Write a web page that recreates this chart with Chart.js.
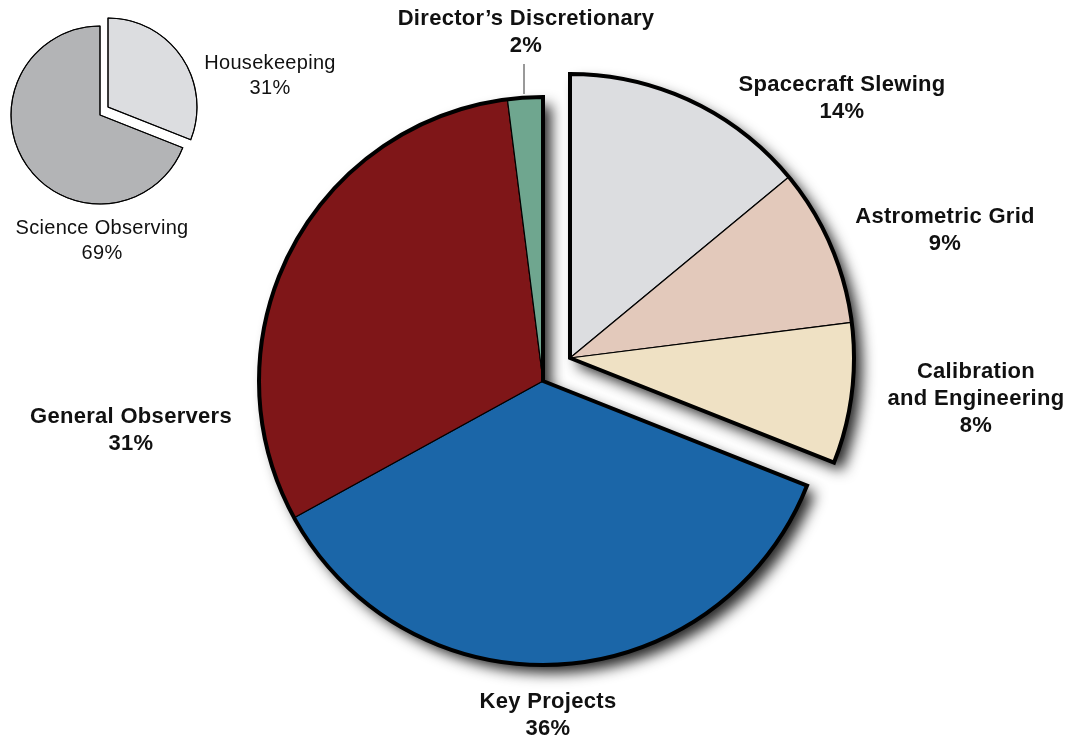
<!DOCTYPE html>
<html>
<head>
<meta charset="utf-8">
<script src="https://cdn.jsdelivr.net/npm/chart.js@4"></script>
<style>
  html, body { margin: 0; padding: 0; background: #fff; }
  #wrap { position: relative; width: 1081px; height: 736px; }
  #mainChart { position: absolute; left: 0; top: 0; }
  #smallChart { position: absolute; left: 0; top: 0; }
</style>
</head>
<body>
<div id="wrap">
  <canvas id="mainChart" width="1081" height="736"></canvas>
  <canvas id="smallChart" width="200" height="230"></canvas>
</div>
<script>
// data
const categories = ['Spacecraft Slewing', 'Astrometric Grid', 'Calibration and Engineering', 'Key Projects', 'General Observers', 'Director’s Discretionary'];
const shares = [14, 9, 8, 36, 31, 2];
const sliceColors = ['#dcdde0', '#e3c9bb', '#efe1c4', '#1b66a8', '#7f1618', '#6fa68f'];

const overviewCategories = ['Housekeeping', 'Science Observing'];
const overviewShares = [31, 69];
const overviewColors = ['#dcdde0', '#b3b4b6'];

// how the label text breaks into lines
const lineBreaks = { 'Calibration and Engineering': ['Calibration', 'and Engineering'] };

// label anchors (center x, first line y)
const mainLabelPos = [[842, 85], [945, 217], [976, 372], [548, 702], [131, 417], [526, 19]];
const smallLabelPos = [[270, 63], [102, 228]];

// draw the slices in groups, each group can be moved, gets a shadow and a thick outline
const groupPlugin = {
    id: 'groupDraw',
    beforeDatasetDraw(chart, args, opts) {
        const ctx = chart.ctx;
        const arcs = args.meta.data;
        opts.groups.forEach(g => {
            const els = g.idx.map(i => arcs[i]);
            const first = els[0];
            const last = els[els.length - 1];
            const x = first.x, y = first.y, r = first.outerRadius;
            const path = () => {
                ctx.beginPath();
                ctx.moveTo(x, y);
                ctx.arc(x, y, r, first.startAngle, last.endAngle);
                ctx.closePath();
            };
            ctx.save();
            ctx.translate(g.dx, g.dy);
            if (g.shadow) {
                ctx.save();
                ctx.shadowColor = 'rgba(0,0,0,0.85)';
                ctx.shadowBlur = 14;
                ctx.shadowOffsetX = 8;
                ctx.shadowOffsetY = 8;
                path();
                ctx.fillStyle = '#fff';
                ctx.fill();
                ctx.restore();
            }
            els.forEach(el => el.draw(ctx, chart.chartArea));
            path();
            ctx.lineWidth = g.lw;
            ctx.lineJoin = 'miter';
            ctx.strokeStyle = '#000';
            ctx.stroke();
            ctx.restore();
        });
        return false;
    }
};

function drawLabels(ctx, names, values, pos, font, lh) {
    ctx.save();
    ctx.fillStyle = '#111';
    ctx.font = font.font;
    ctx.letterSpacing = font.spacing;
    ctx.textAlign = 'center';
    ctx.textBaseline = 'middle';
    names.forEach((name, i) => {
        const lines = (lineBreaks[name] || [name]).concat([values[i] + '%']);
        lines.forEach((t, k) => ctx.fillText(t, pos[i][0], pos[i][1] + k * lh));
    });
    ctx.restore();
}

const labelPlugin = {
    id: 'labels',
    afterDraw(chart) {
        const ctx = chart.ctx;
        drawLabels(ctx, categories, shares, mainLabelPos, { font: 'bold 22px "Liberation Sans", Arial, sans-serif', spacing: '0.3px' }, 27);
        drawLabels(ctx, overviewCategories, overviewShares, smallLabelPos, { font: '20px "Liberation Sans", Arial, sans-serif', spacing: '0.3px' }, 25);
        // leader line for the small slice
        ctx.save();
        ctx.strokeStyle = '#777';
        ctx.lineWidth = 1.5;
        ctx.beginPath();
        ctx.moveTo(524, 64);
        ctx.lineTo(524, 94);
        ctx.stroke();
        ctx.restore();
    }
};

new Chart(document.getElementById('mainChart'), {
    type: 'pie',
    data: {
        labels: categories,
        datasets: [{
            data: shares,
            backgroundColor: sliceColors,
            borderColor: '#000',
            borderWidth: 1.2
        }]
    },
    options: {
        responsive: false,
        animation: false,
        radius: 284,
        layout: { padding: { left: 259, right: 254, top: 97, bottom: 71 } },
        plugins: {
            legend: { display: false },
            tooltip: { enabled: false },
            groupDraw: {
                groups: [
                    { idx: [3, 4, 5], dx: 0, dy: 0, shadow: true, lw: 4 },
                    { idx: [0, 1, 2], dx: 27, dy: -23, shadow: true, lw: 4 }
                ]
            }
        }
    },
    plugins: [groupPlugin, labelPlugin]
});

new Chart(document.getElementById('smallChart'), {
    type: 'pie',
    data: {
        labels: overviewCategories,
        datasets: [{
            data: overviewShares,
            backgroundColor: overviewColors,
            borderColor: '#222',
            borderWidth: 1
        }]
    },
    options: {
        responsive: false,
        animation: false,
        radius: 89,
        layout: { padding: { left: 11, right: 11, top: 26, bottom: 26 } },
        plugins: {
            legend: { display: false },
            tooltip: { enabled: false },
            groupDraw: {
                groups: [
                    { idx: [1], dx: 0, dy: 0, shadow: false, lw: 1.2 },
                    { idx: [0], dx: 8, dy: -8, shadow: false, lw: 1.2 }
                ]
            }
        }
    },
    plugins: [groupPlugin]
});
</script>
</body>
</html>
